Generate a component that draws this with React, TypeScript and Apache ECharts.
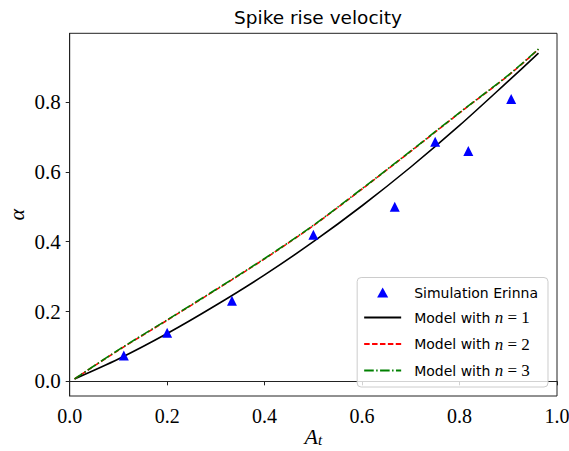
import React, { useEffect, useRef } from "react";
import * as echarts from "echarts";

const simAt = [0.111, 0.2, 0.333, 0.5, 0.667, 0.75, 0.818, 0.906];
const simAlpha = [0.074, 0.139, 0.231, 0.42, 0.5, 0.686, 0.66, 0.809];

const modelAt = [0.01, 0.1, 0.2, 0.3, 0.4, 0.5, 0.6, 0.7, 0.8, 0.9, 0.962];
const modelN1 = [0.007, 0.064, 0.137, 0.218, 0.305, 0.4, 0.503, 0.614, 0.733, 0.86, 0.94];
const modelN2 = [0.007, 0.089, 0.175, 0.262, 0.351, 0.446, 0.551, 0.659, 0.769, 0.876, 0.951];
const modelN3 = [0.007, 0.09, 0.176, 0.263, 0.352, 0.447, 0.552, 0.66, 0.77, 0.877, 0.952];

const yTicks = [0, 0.2, 0.4, 0.6, 0.8];
const xTicks = [0, 0.2, 0.4, 0.6, 0.8, 1.0];

const serif = "Liberation Serif";
const sans = "DejaVu Sans";

export default function App() {
  const ref = useRef<HTMLDivElement>(null);
  useEffect(() => {
    const chart = echarts.init(ref.current!, null, { renderer: "svg" });
    const zip = (xs: number[], ys: number[]) => xs.map((x, i) => [x, ys[i]]);
    const hidden = { color: "rgba(0,0,0,0)", borderColor: "rgba(0,0,0,0)", borderWidth: 0, opacity: 0 };
    chart.setOption({
      animation: false,
      title: {
        text: "Spike rise velocity",
        left: 313,
        textAlign: "center",
        top: 3,
        textStyle: { fontFamily: sans, fontSize: 18.5, fontWeight: "normal", color: "#000" },
      },
      grid: {
        left: 69.7,
        right: 12,
        top: 33.3,
        bottom: 55,
        outerBoundsMode: "none",
        containLabel: false,
        show: true,
        borderColor: "#222",
        borderWidth: 1,
      },
      xAxis: {
        type: "value",
        min: 0,
        max: 1,
        interval: 0.2,
        name: "{a|A}{s|t}",
        nameLocation: "middle",
        nameGap: 30,
        nameMoveOverlap: false,
        nameTextStyle: {
          rich: {
            a: { fontFamily: serif, fontStyle: "italic", fontSize: 22, lineHeight: 20, color: "#000" },
            s: { fontFamily: serif, fontStyle: "italic", fontSize: 15, lineHeight: 20, color: "#000", padding: [7, 0, 0, 0] },
          },
        },
        axisLine: { show: true, lineStyle: { color: "#222", width: 1 } },
        axisTick: { show: true, inside: false, length: 4, lineStyle: { color: "#222" } },
        splitLine: { show: false },
        axisLabel: {
          fontFamily: serif,
          fontSize: 20,
          color: "#000",
          margin: 10,
          customValues: xTicks,
          formatter: (v: number) => v.toFixed(1),
        },
      },
      yAxis: {
        type: "value",
        min: -0.042,
        max: 0.997,
        name: "α",
        nameLocation: "middle",
        nameRotate: 90,
        nameGap: 42,
        nameMoveOverlap: false,
        nameTextStyle: { fontFamily: serif, fontStyle: "italic", fontSize: 22, color: "#000" },
        axisLine: { show: true, lineStyle: { color: "#222", width: 1 } },
        axisTick: { show: true, inside: false, length: 4, customValues: yTicks, lineStyle: { color: "#222" } },
        splitLine: { show: false },
        axisLabel: {
          fontFamily: serif,
          fontSize: 21,
          color: "#000",
          margin: 9,
          customValues: yTicks,
          formatter: (v: number) => v.toFixed(1),
        },
      },
      legend: {
        orient: "vertical",
        right: 21,
        bottom: 64,
        padding: [8, 10, 8, 6],
        itemWidth: 37,
        itemHeight: 10,
        itemGap: 9.5,
        borderColor: "#ccc",
        borderWidth: 1,
        borderRadius: 4,
        backgroundColor: "rgba(255,255,255,0.8)",
        data: [
          { name: "sim", icon: "path://M5,0L10,9L0,9Z" },
          { name: "n1", itemStyle: hidden },
          { name: "n2", itemStyle: hidden },
          { name: "n3", itemStyle: hidden },
        ],
        formatter: (name: string) => {
          if (name === "sim") return "{t|Simulation Erinna}";
          const k = name.slice(1);
          return "{t|Model with }{i|n}{m| = " + k + "}";
        },
        textStyle: {
          rich: {
            t: { fontFamily: sans, fontSize: 14, lineHeight: 16, color: "#000", padding: [0, 0, 0, 8] },
            i: { fontFamily: serif, fontStyle: "italic", fontSize: 17, lineHeight: 16, color: "#000" },
            m: { fontFamily: serif, fontSize: 17, lineHeight: 16, color: "#000" },
          },
        },
      },
      series: [
        {
          name: "sim",
          type: "scatter",
          data: zip(simAt, simAlpha),
          symbol: "triangle",
          symbolSize: 10,
          itemStyle: { color: "#0000ff", opacity: 1 },
          z: 5,
        },
        {
          name: "n1",
          type: "line",
          data: zip(modelAt, modelN1),
          showSymbol: false,
          symbol: "none",
          smooth: 0.3,
          lineStyle: { color: "#000", width: 1.6, type: "solid" },
          itemStyle: { color: "#000" },
        },
        {
          name: "n2",
          type: "line",
          data: zip(modelAt, modelN2),
          showSymbol: false,
          symbol: "none",
          smooth: 0.3,
          lineStyle: { color: "#ff0000", width: 1.6, type: [5.5, 2.4] },
          itemStyle: { color: "#ff0000" },
        },
        {
          name: "n3",
          type: "line",
          data: zip(modelAt, modelN3),
          showSymbol: false,
          symbol: "none",
          smooth: 0.3,
          lineStyle: { color: "#008000", width: 1.6, type: [9.6, 2.4, 1.5, 2.4] },
          itemStyle: { color: "#008000" },
        },
      ],
    });
    return () => chart.dispose();
  }, []);
  return <div ref={ref} style={{ width: 569, height: 451, position: "absolute", left: 0, top: 0 }} />;
}
